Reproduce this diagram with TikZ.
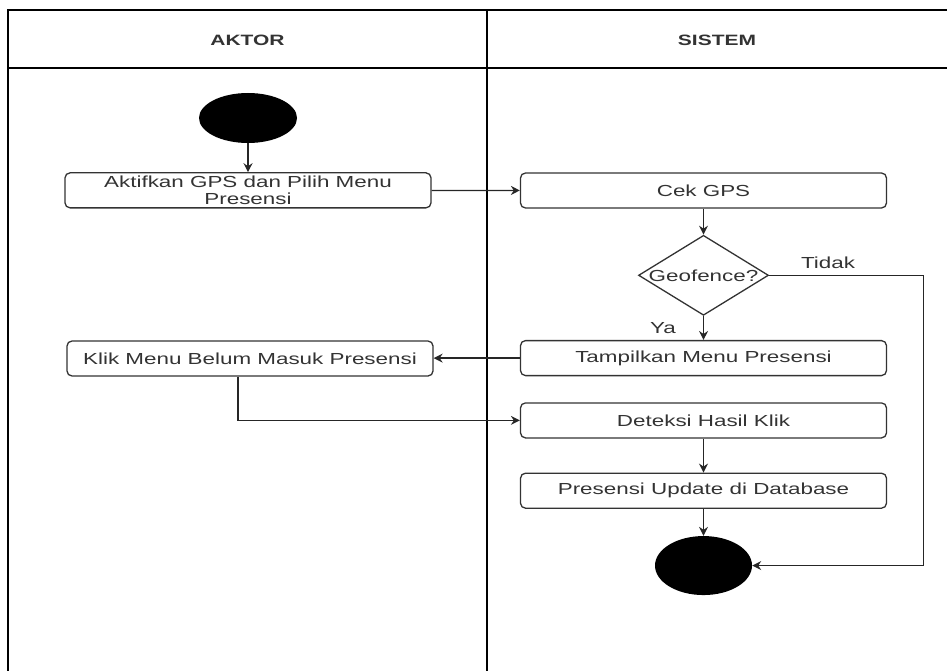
\documentclass[tikz,border=0pt]{standalone}
\usepackage{fontspec}
\setmainfont[FakeStretch=1.4]{Liberation Sans}
\usepackage{xcolor}
\usetikzlibrary{positioning,shapes.geometric}
\usetikzlibrary{arrows.meta}

\definecolor{txtgray}{HTML}{333333}

\begin{document}
\begin{tikzpicture}[
	  x=1pt, y=-1pt,
	  %style for arrows
	  arrw/.style={line width=1.3pt, draw=black!85, ->, >={Stealth[length=9pt,width=9pt,inset=3pt]}},
	  %style for the swimlane lines
	  lane/.style={line width=1.4pt, draw=black},
	  % style for activity boxes
	  act/.style={rectangle, rounded corners=5pt, draw=black!80, line width=1.3pt, minimum width=366pt, minimum height=35pt, inner sep=0pt, text=txtgray, font=\fontsize{16}{17}\selectfont},
	  % style for the decision
	  dec/.style={diamond, draw=black!80, line width=1.3pt, minimum width=130pt, minimum height=80pt, inner sep=0pt, text=txtgray, font=\fontsize{16}{16}\selectfont},
	  % start and end points
	  strt/.style={ellipse, fill=black, minimum width=98pt, minimum height=50pt, inner sep=0pt},
	  hdr/.style={text=txtgray, font=\fontsize{15}{15}\selectfont\bfseries},
	  lbl/.style={text=txtgray, font=\fontsize{16}{16}\selectfont}]

      \useasboundingbox (0,0) rectangle (947,671);

      %lanes
      \draw[lane] (8,671) -- (8,10) -- (947,10);
      \draw[lane] (8,68) -- (947,68);
      \draw[lane] (487,10) -- (487,671);
      \node[hdr](aktor) at (247.5,40){AKTOR};
      \node[hdr](sistem) at (717,40){SISTEM};

      %nodes
      \node[strt](start) at (248,118){};
      \node[act,align=center,below=29pt of start](aktif){Aktifkan GPS dan Pilih Menu\\Presensi};
      \node[act](cekgps) at (703.5,190.5){Cek GPS};
      \node[dec,below=26pt of cekgps](geofence){\makebox[0pt]{Geofence?}};
      \node[act,below=24pt of geofence](tampil){Tampilkan Menu Presensi};
      \node[act](klik) at (250,358.5){Klik Menu Belum Masuk Presensi};
      \node[act,below=26pt of tampil](deteksi){Deteksi Hasil Klik};
      \node[act,below=34pt of deteksi](update){Presensi Update di Database};
      \node[strt,minimum width=97pt,minimum height=59pt,below=27pt of update](stop){};
      \node[lbl](tidak) at (828,263){Tidak};
      \node[lbl](ya) at (663,328){Ya};

      %edges
      \draw[arrw](start) -- (aktif);
      \draw[arrw](aktif) -- (cekgps);
      \draw[arrw](cekgps) -- (geofence);
      \draw[arrw](geofence) -- (tampil);
      \draw[arrw](tampil.west) -- (tampil.west -| klik.east);
      \draw[arrw]([xshift=-12pt]klik.south) |- (deteksi.west);
      \draw[arrw](deteksi) -- (update);
      \draw[arrw](update) -- (stop);
      \draw[arrw](geofence.east) -- ++(154,0) |- (stop.east);
\end{tikzpicture}
\end{document}
